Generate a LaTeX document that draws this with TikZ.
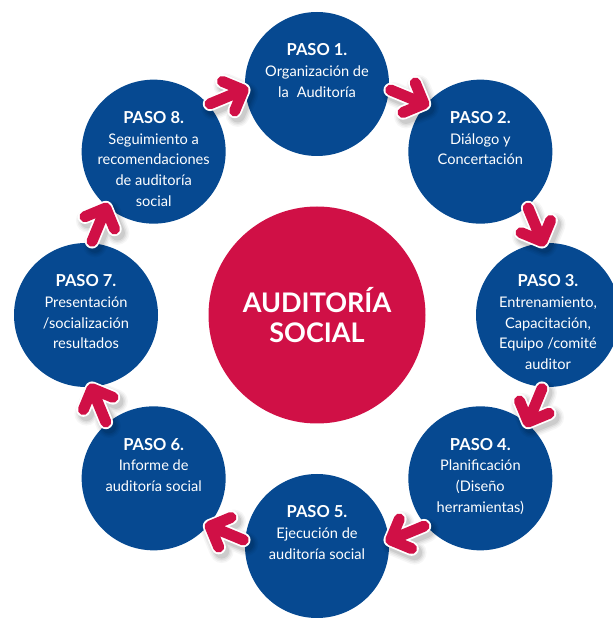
\documentclass[tikz,border=0pt]{standalone}
\usepackage{fontspec}
\setmainfont{Lato}
\usetikzlibrary{calc}
\definecolor{stepblue}{RGB}{6,73,145}
\definecolor{stepred}{RGB}{208,16,70}
\tikzset{
  stepcircle/.style={circle, fill=stepblue, minimum size=144pt, inner sep=0pt},
  steptext/.style={text=white, align=center, inner sep=0pt, anchor=north,
    font={\fontsize{14.6}{20.7}\selectfont}},
  chevpath/.style={line cap=round, line join=round},
  chev/.pic={
    \draw[white, line width=14.5pt, chevpath]
      (-18,0) -- (18,0) (2,16) -- (18,0) -- (2,-16);
    \draw[stepred, line width=11pt, chevpath]
      (-18,0) -- (18,0) (2,16) -- (18,0) -- (2,-16);
  },
  chevshadow/.pic={
    \foreach \w/\o in {24/0.035,21/0.045,18/0.06,15/0.08}{
      \draw[black, opacity=\o, line width=\w pt, chevpath]
        (-18,0) -- (18,0) (2,16) -- (18,0) -- (2,-16);
    }
  }
}
\newcommand\pasohead[1]{{\fontsize{16.5}{20.7}\selectfont\bfseries #1}}
\begin{document}
\begin{tikzpicture}[x=1pt,y=1pt]
\useasboundingbox (0,0) rectangle (613,619);
\coordinate (c) at (317,304);
% steps
\foreach \k in {1,...,8}{
  \pgfmathsetmacro\ang{90-45*(\k-1)}
  \node[stepcircle] (s\k) at ($(c)+(\ang:231)$) {};
}
% center
\node[circle, fill=stepred, minimum size=217pt, inner sep=0pt, text=white,
  align=center, font={\fontsize{27}{30.5}\selectfont\bfseries}] (mid) at (c) {AUDITORÍA\\SOCIAL};
% texts
\node[steptext] (t1) at ($(s1.center)+(0,40.5)$) {\pasohead{PASO 1.}\\Organización de\\la\hspace{0.3em} Auditoría};
\node[steptext] (t2) at ($(s2.center)+(0,40.5)$) {\pasohead{PASO 2.}\\Diálogo y\\Concertación};
\node[steptext] (t3) at ($(s3.center)+(0,40.5)$) {\pasohead{PASO 3.}\\Entrenamiento,\\Capacitación,\\Equipo /comité\\auditor};
\node[steptext] (t4) at ($(s4.center)+(0,40.5)$) {\pasohead{PASO 4.}\\Planificación\\(Diseño\\herramientas)};
\node[steptext] (t5) at ($(s5.center)+(0,40.5)$) {\pasohead{PASO 5.}\\Ejecución de\\auditoría social};
\node[steptext] (t6) at ($(s6.center)+(0,40.5)$) {\pasohead{PASO 6.}\\Informe de\\auditoría social};
\node[steptext] (t7) at ($(s7.center)+(0,40.5)$) {\pasohead{PASO 7.}\\Presentación\\/socialización\\resultados};
\node[steptext] (t8) at ($(s8.center)+(0,40.5)$) {\pasohead{PASO 8.}\\Seguimiento a\\recomendaciones\\de auditoría\\social};
% arrows
\foreach \k in {1,...,8}{
  \pgfmathtruncatemacro\n{mod(\k,8)+1}
  \pgfmathsetmacro\dir{-22.5-45*(\k-1)}
  \coordinate (h\k) at ($(s\k)!0.5!(s\n)$);
  \coordinate (m\k) at ($(c)!1.106!(h\k)$);
  \pic[rotate=\dir] at ($(m\k)+(3,-4)$) {chevshadow};
}
\foreach \k in {1,...,8}{
  \pgfmathsetmacro\dir{-22.5-45*(\k-1)}
  \pic[rotate=\dir] at (m\k) {chev};
}
\end{tikzpicture}
\end{document}
